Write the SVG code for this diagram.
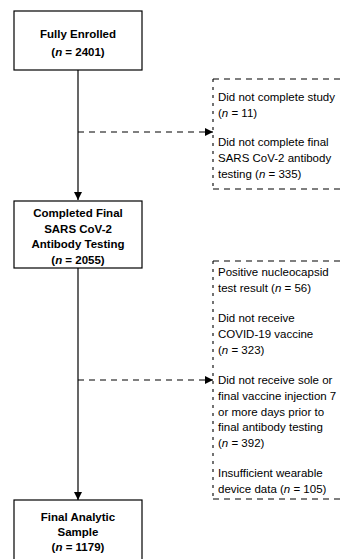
<svg xmlns="http://www.w3.org/2000/svg" width="342" height="559" viewBox="0 0 342 559">
<defs>
<marker id="ah" markerWidth="8" markerHeight="8" refX="8" refY="4" orient="auto" markerUnits="userSpaceOnUse">
<path d="M0,0 L8,4 L0,8 Z" fill="#000"/>
</marker>
<style>
.box{fill:#fff;stroke:#000;stroke-width:1.2}
.dbox{fill:none;stroke:#000;stroke-width:1.1;stroke-dasharray:6 5}
.dleft{fill:none;stroke:#000;stroke-width:1.1;stroke-dasharray:3 5}
.line{fill:none;stroke:#000;stroke-width:1.2}
.dline{fill:none;stroke:#000;stroke-width:1.1;stroke-dasharray:6 5}
.b{font-family:"Liberation Sans",Arial,sans-serif;font-weight:bold;font-size:11.5px;text-anchor:middle;fill:#000}
.t{font-family:"Liberation Sans",Arial,sans-serif;font-size:11.5px;fill:#000}
</style>
</defs>
<rect width="342" height="559" fill="#fff"/>
<g id="connectors">
<line class="line" x1="78" y1="70" x2="78" y2="200" marker-end="url(#ah)"/>
<line class="line" x1="78" y1="268" x2="78" y2="500" marker-end="url(#ah)"/>
<line class="dline" x1="78" y1="132" x2="213" y2="132" marker-end="url(#ah)"/>
<line class="dline" x1="78" y1="380" x2="213" y2="380" marker-end="url(#ah)"/>
</g>
<g id="n1">
<rect class="box" x="14" y="11" width="128" height="59"/>
<text class="b" x="78" y="38">Fully Enrolled</text>
<text class="b" x="78" y="56">(<tspan font-style="italic">n</tspan> = 2401)</text>
</g>
<g id="n2">
<rect class="box" x="14" y="201" width="128" height="67"/>
<text class="b" x="78" y="217">Completed Final</text>
<text class="b" x="78" y="232.5">SARS CoV-2</text>
<text class="b" x="78" y="248">Antibody Testing</text>
<text class="b" x="78" y="264">(<tspan font-style="italic">n</tspan> = 2055)</text>
</g>
<g id="n3">
<rect class="box" x="14" y="500" width="128" height="70"/>
<text class="b" x="78" y="521">Final Analytic</text>
<text class="b" x="78" y="536">Sample</text>
<text class="b" x="78" y="551">(<tspan font-style="italic">n</tspan> = 1179)</text>
</g>
<g id="e1">
<line class="dbox" x1="213" y1="79" x2="345" y2="79"/>
<line class="dbox" x1="213" y1="189" x2="345" y2="189"/>
<line class="dleft" x1="213" y1="79" x2="213" y2="189"/>
<text class="t" x="218" y="101">Did not complete study</text>
<text class="t" x="218" y="117">(<tspan font-style="italic">n</tspan> = 11)</text>
<text class="t" x="218" y="146">Did not complete final</text>
<text class="t" x="218" y="162">SARS CoV-2 antibody</text>
<text class="t" x="218" y="177.5">testing (<tspan font-style="italic">n</tspan> = 335)</text>
</g>
<g id="e2">
<line class="dbox" x1="213" y1="261" x2="345" y2="261"/>
<line class="dbox" x1="213" y1="499" x2="345" y2="499"/>
<line class="dleft" x1="213" y1="261" x2="213" y2="499"/>
<text class="t" x="218" y="276">Positive nucleocapsid</text>
<text class="t" x="218" y="292">test result (<tspan font-style="italic">n</tspan> = 56)</text>
<text class="t" x="218" y="322">Did not receive</text>
<text class="t" x="218" y="338">COVID-19 vaccine</text>
<text class="t" x="218" y="354">(<tspan font-style="italic">n</tspan> = 323)</text>
<text class="t" x="218" y="384">Did not receive sole or</text>
<text class="t" x="218" y="400">final vaccine injection 7</text>
<text class="t" x="218" y="415.5">or more days prior to</text>
<text class="t" x="218" y="431">final antibody testing</text>
<text class="t" x="218" y="447">(<tspan font-style="italic">n</tspan> = 392)</text>
<text class="t" x="218" y="477">Insufficient wearable</text>
<text class="t" x="218" y="493">device data (<tspan font-style="italic">n</tspan> = 105)</text>
</g>
</svg>
